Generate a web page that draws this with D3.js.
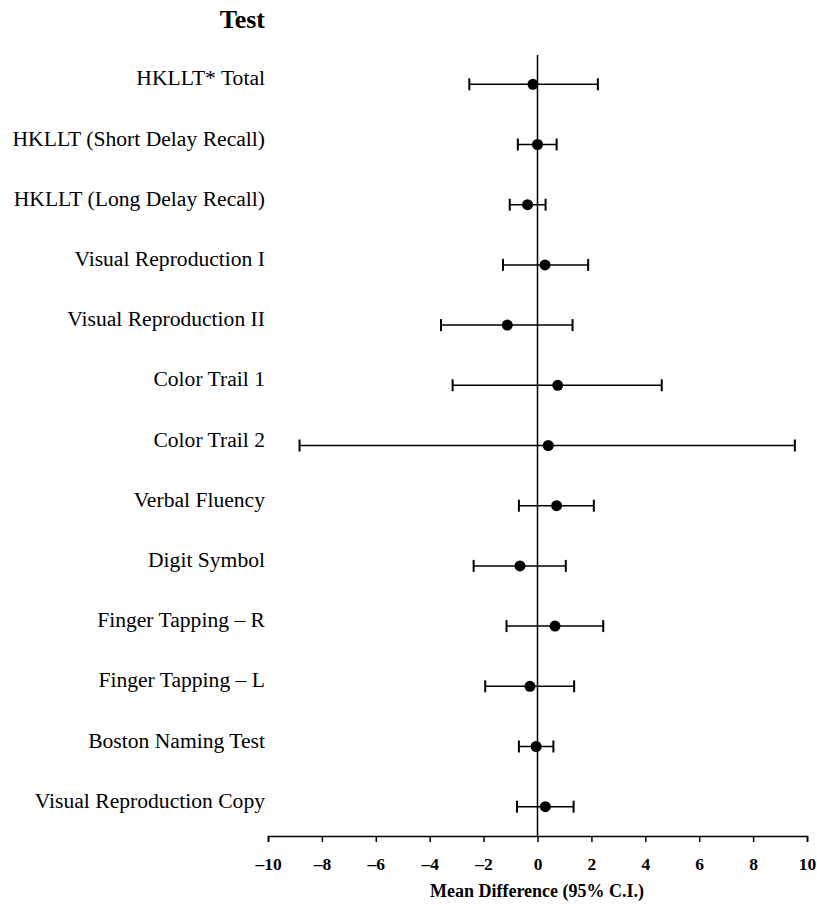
<!DOCTYPE html>
<html>
<head>
<meta charset="utf-8">
<script src="https://cdn.jsdelivr.net/npm/d3@7"></script>
<style>
  body { margin: 0; background: #fff; }
  svg text { font-family: "Liberation Serif", "Times New Roman", serif; fill: #000; }
</style>
</head>
<body>
<div id="chart"></div>
<script>
// data
const tests = [
  "HKLLT* Total",
  "HKLLT (Short Delay Recall)",
  "HKLLT (Long Delay Recall)",
  "Visual Reproduction I",
  "Visual Reproduction II",
  "Color Trail 1",
  "Color Trail 2",
  "Verbal Fluency",
  "Digit Symbol",
  "Finger Tapping \u2013 R",
  "Finger Tapping \u2013 L",
  "Boston Naming Test",
  "Visual Reproduction Copy"
]
const means = [-0.17, 0.0, -0.37, 0.28, -1.12, 0.75, 0.40, 0.71, -0.65, 0.65, -0.28, -0.05, 0.29]
const lower = [-2.53, -0.73, -1.03, -1.28, -3.58, -3.15, -8.83, -0.69, -2.37, -1.15, -1.94, -0.69, -0.76]
const upper = [2.24, 0.71, 0.30, 1.88, 1.30, 4.61, 9.55, 2.09, 1.05, 2.44, 1.36, 0.59, 1.34]
const xTicks = [-10, -8, -6, -4, -2, 0, 2, 4, 6, 8, 10]

const width = 817
const height = 905

const svg = d3.select("#chart")
    .append("svg")
    .attr("width", width)
    .attr("height", height)

const x = d3.scaleLinear()
    .domain([-10, 10])
    .range([268, 807])

const y = d3.scalePoint()
    .domain(tests)
    .range([84.3, 806.7])

const axisY = 836

// title over the labels
svg.append("text")
    .attr("x", 265)
    .attr("y", 28)
    .attr("text-anchor", "end")
    .style("font-size", "26px")
    .style("font-weight", "bold")
    .text("Test")

// row labels
svg.selectAll(".label")
    .data(tests)
    .enter()
    .append("text")
    .attr("class", "label")
    .attr("x", 265)
    .attr("y", d => y(d) + 1)
    .attr("text-anchor", "end")
    .style("font-size", "21.6px")
    .text(d => d)

// zero line
svg.append("line")
    .attr("x1", x(0)).attr("x2", x(0))
    .attr("y1", 55).attr("y2", axisY)
    .attr("stroke", "#000")
    .attr("stroke-width", 1.5)

// x axis
const xAxis = svg.append("g")
    .attr("transform", `translate(0,${axisY})`)
    .call(d3.axisBottom(x)
        .tickValues(xTicks)
        .tickSize(6)
        .tickFormat(d => d < 0 ? "\u2013" + Math.abs(d) : d))

xAxis.select(".domain").attr("stroke-width", 1.6)
xAxis.selectAll(".tick line").attr("stroke-width", 1.5)
xAxis.selectAll(".tick text")
    .attr("y", 34)
    .attr("dy", 0)
    .style("font-family", "'Liberation Serif', 'Times New Roman', serif")
    .style("font-size", "17.5px")
    .style("font-weight", "bold")

svg.append("text")
    .attr("x", 537)
    .attr("y", 897)
    .attr("text-anchor", "middle")
    .style("font-size", "18px")
    .style("font-weight", "bold")
    .text("Mean Difference (95% C.I.)")

// error bars
const rows = tests.map((t, i) => ({ test: t, mean: means[i], lo: lower[i], hi: upper[i] }))
const capH = 6

const bars = svg.selectAll(".bar")
    .data(rows)
    .enter()
    .append("g")
    .attr("class", "bar")

bars.append("line")
    .attr("x1", d => x(d.lo)).attr("x2", d => x(d.hi))
    .attr("y1", d => y(d.test)).attr("y2", d => y(d.test))
    .attr("stroke", "#000").attr("stroke-width", 1.5)

bars.append("line")
    .attr("x1", d => x(d.lo)).attr("x2", d => x(d.lo))
    .attr("y1", d => y(d.test) - capH).attr("y2", d => y(d.test) + capH)
    .attr("stroke", "#000").attr("stroke-width", 2)

bars.append("line")
    .attr("x1", d => x(d.hi)).attr("x2", d => x(d.hi))
    .attr("y1", d => y(d.test) - capH).attr("y2", d => y(d.test) + capH)
    .attr("stroke", "#000").attr("stroke-width", 2)

bars.append("circle")
    .attr("cx", d => x(d.mean))
    .attr("cy", d => y(d.test))
    .attr("r", 5.5)
    .attr("fill", "#000")
</script>
</body>
</html>
